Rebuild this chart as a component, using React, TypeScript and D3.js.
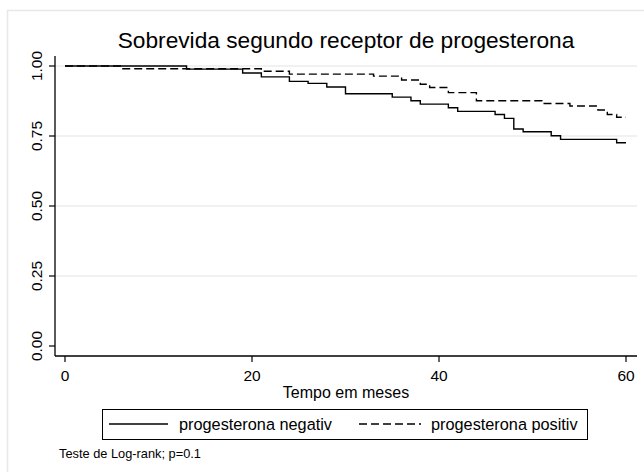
import React from "react";
import * as d3 from "d3";

// Kaplan-Meier step data
const negTimes = [0, 13, 19, 21, 24, 26, 28, 30, 35, 37, 38, 41, 42, 46, 47, 48, 49, 52, 53, 59, 60];
const negSurv = [1, 0.989, 0.975, 0.961, 0.945, 0.938, 0.925, 0.901, 0.889, 0.876, 0.864, 0.851, 0.838, 0.827, 0.813, 0.775, 0.765, 0.751, 0.738, 0.726, 0.726];
const posTimes = [0, 6, 21, 24, 33, 36, 38, 39, 41, 44, 51, 54, 57, 58, 59, 60];
const posSurv = [1, 0.99, 0.981, 0.971, 0.964, 0.95, 0.935, 0.923, 0.905, 0.876, 0.866, 0.857, 0.843, 0.827, 0.817, 0.817];

const xTicks = [0, 20, 40, 60];
const yTicks = [0, 0.25, 0.5, 0.75, 1];
const yTickLabels = ["0.00", "0.25", "0.50", "0.75", "1.00"];
const gridTicks = [0.25, 0.5, 0.75, 1];

const seriesNames = ["progesterona negativ", "progesterona positiv"];
const titleText = "Sobrevida segundo receptor de progesterona";
const xTitle = "Tempo em meses";
const noteText = "Teste de Log-rank; p=0.1";

const FONT = "'Liberation Sans', Arial, Helvetica, sans-serif";

export default function App() {
  const W = 644, H = 472;
  const plotL = 55, plotR = 637, plotT = 56, plotB = 356;
  const x = d3.scaleLinear().domain([0, 60]).range([65, 626]);
  const y = d3.scaleLinear().domain([0, 1]).range([346, 66]);

  const line = d3
    .line<[number, number]>()
    .x((d) => x(d[0]))
    .y((d) => y(d[1]))
    .curve(d3.curveStepAfter);

  const negPts: [number, number][] = negTimes.map((t, i) => [t, negSurv[i]]);
  const posPts: [number, number][] = posTimes.map((t, i) => [t, posSurv[i]]);

  const legY = 424;

  return (
    <svg
      width={W}
      height={H}
      style={{ position: "absolute", left: 0, top: 0, background: "#fff" }}
      fontFamily={FONT}
    >
      <rect x={0} y={0} width={W} height={H} fill="#fff" />
      <rect x={7.5} y={10.5} width={W + 20} height={H + 20} fill="none" stroke="#e8e8e8" strokeWidth={1.5} />

      <text x={346} y={48} textAnchor="middle" fontSize={22.7} fill="#000">
        {titleText}
      </text>

      {/* grid */}
      {gridTicks.map((v) => (
        <line key={"g" + v} x1={plotL} x2={plotR} y1={y(v)} y2={y(v)} stroke="#e3e3e3" strokeWidth={1} />
      ))}

      {/* curves */}
      <path d={line(negPts) || ""} fill="none" stroke="#000" strokeWidth={1.4} />
      <path d={line(posPts) || ""} fill="none" stroke="#000" strokeWidth={1.4} strokeDasharray="8,4" />

      {/* axes */}
      <line x1={plotL} x2={plotL} y1={plotT} y2={plotB} stroke="#000" strokeWidth={1.3} />
      <line x1={plotL} x2={plotR} y1={plotB} y2={plotB} stroke="#000" strokeWidth={1.3} />

      {yTicks.map((v, i) => (
        <g key={"y" + v}>
          <line x1={plotL - 6} x2={plotL} y1={y(v)} y2={y(v)} stroke="#000" strokeWidth={1.2} />
          <text
            transform={`translate(42,${y(v)}) rotate(-90)`}
            textAnchor="middle"
            fontSize={15.5}
            fill="#000"
          >
            {yTickLabels[i]}
          </text>
        </g>
      ))}

      {xTicks.map((v) => (
        <g key={"x" + v}>
          <line x1={x(v)} x2={x(v)} y1={plotB} y2={plotB + 6} stroke="#000" strokeWidth={1.2} />
          <text x={x(v)} y={381} textAnchor="middle" fontSize={15.5} fill="#000">
            {v}
          </text>
        </g>
      ))}

      <text x={346} y={398} textAnchor="middle" fontSize={16} fill="#000">
        {xTitle}
      </text>

      {/* legend */}
      <rect x={102.5} y={409.5} width={485} height={30} fill="#fff" stroke="#000" strokeWidth={1} />
      <line x1={109} x2={168} y1={legY} y2={legY} stroke="#000" strokeWidth={1.4} />
      <text x={179} y={legY + 5.5} fontSize={16.3} fill="#000">
        {seriesNames[0]}
      </text>
      <line x1={359} x2={421} y1={legY} y2={legY} stroke="#000" strokeWidth={1.4} strokeDasharray="8,4" />
      <text x={431} y={legY + 5.5} fontSize={16.3} fill="#000">
        {seriesNames[1]}
      </text>

      <text x={59} y={458} fontSize={12.8} fill="#000">
        {noteText}
      </text>
    </svg>
  );
}
